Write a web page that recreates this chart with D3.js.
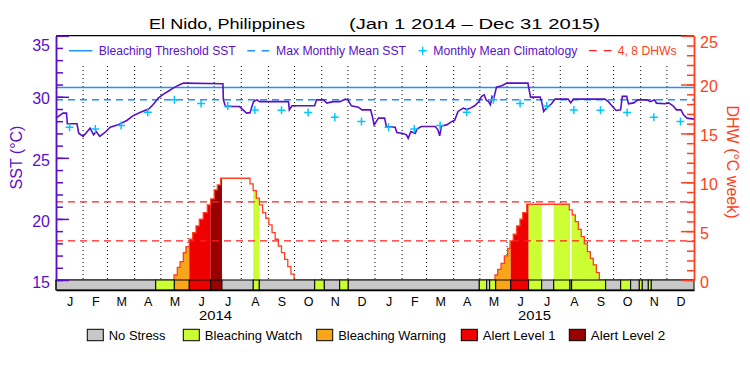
<!DOCTYPE html>
<html><head><meta charset="utf-8">
<script src="https://cdn.jsdelivr.net/npm/d3@7"></script>
<style>body{margin:0;background:#fff}svg{display:block}text{font-family:"Liberation Sans",Arial,sans-serif}</style>
</head><body><svg id="c" width="750" height="375"></svg>
<script>
// ---------- data ----------
const monthLetters = ["J","F","M","A","M","J","J","A","S","O","N","D"];
const yearLabels = ["2014","2015"];
const maxMonthlyMean = 29.75;
const bleachingThreshold = 30.75;
const dhwLevels = [4, 8];
const climatology = [27.5,27.37,27.65,28.73,29.75,29.45,29.25,28.92,28.9,28.72,28.33,27.98];
// days since Jan 1 2014
const sstDays = [0,8,12,13,24,26,31,39,43,46,50,56,62,71,81,88,96,106,111,117,123,128,134,142,146,191,191.5,194,210,218,222,226,230,233,266,267,270,296,298,306,310,317,325,331,334,338,346,350,360,362,364,
 369,376,378,388,390,397,401,403,406,411,413,418,434,437,439,441,447,453,456,460,466,470,474,479,484,487,490,492,495,497,499,501,504,510,516,540,541,543,554,556,558,561,567,571,586,589,592,628,632,636,641,646,648,653,655,661,666,676,680,685,687,697,701,706,710,715,718,722,730];
const sstValues = [28.25,28.66,28.66,27.79,27.79,27.02,26.75,27.43,26.89,27.16,26.75,27.08,27.51,27.7,28.06,28.44,28.71,28.99,29.34,29.89,30.22,30.43,30.71,31.0,31.12,31.07,29.75,29.2,29.2,28.66,28.7,29.61,29.75,29.6,29.6,28.93,29.26,29.26,29.75,29.75,29.48,29.6,29.6,29.81,29.75,29.26,29.15,28.93,28.93,28.39,27.7,
 28.25,28.25,27.57,27.5,27.08,27.0,26.89,26.61,27.16,27.0,27.35,27.57,27.57,27.3,26.8,27.62,27.7,27.98,28.05,28.8,29.07,28.95,29.07,29.26,29.61,30.03,30.16,29.75,29.6,29.34,30.03,29.9,30.79,30.9,31.12,31.12,30.71,29.97,29.97,29.5,28.8,29.07,29.43,29.81,29.81,29.5,29.81,29.81,29.6,29.26,28.88,28.93,30.03,30.03,29.43,29.5,29.75,29.75,29.6,29.75,29.48,29.43,29.5,29.26,28.93,28.93,28.52,28.25,28.17];
const dhwDays = [0,135,138.8,141.9,145.7,148.7,152.5,156.4,160.2,164,168.5,173.1,177,181.1,184.6,188.4,222,225.6,229.2,232.8,236.4,240,243.6,247.2,250.8,254.4,258,261.6,265.2,268.8,272.4,
 502.3,505.4,509.2,513,516.8,519.5,523.2,527.1,530.9,534,538.6,587.3,590.7,594.2,597.6,601,604.5,608,611.4,614.8,618.3,621.7,730];
const dhwValues = [0,0.51,1.3,1.88,2.8,3.41,4.17,4.85,5.53,6.22,6.9,7.68,8.3,9.22,9.73,10.41,9.84,9.15,8.37,7.68,6.9,6.32,5.64,4.85,4.17,3.48,2.8,2.12,1.37,0.61,0,
 0.51,1.09,1.71,2.46,3.24,4.0,4.68,5.53,6.22,6.9,7.75,7.17,6.66,5.97,5.19,4.44,3.69,2.9,2.22,1.54,0.75,0,0];
// stress level segments: start day, level (0 none,1 watch,2 warning,3 alert1,4 alert2)
const stressStarts = [0,114.1,135.4,152.5,177,189.9,225.7,232.6,296,307,324.6,334.4,484.3,492.8,496.2,503.1,520.3,540.8,555.7,569.5,588.1,590,628.9,646.1,657.5,667.4,670.8,677.7,681.1];
const stressLevels = [0,1,2,3,4,0,1,0,1,0,1,0,1,0,1,2,3,1,0,1,0,1,0,1,0,1,0,1,0];
const stressNames = ["No Stress","Bleaching Watch","Bleaching Warning","Alert Level 1","Alert Level 2"];
const sstTicks = [15,20,25,30,35];
const dhwTicks = [0,5,10,15,20,25];

// ---------- styles ----------
const PURPLE="#5a0fc8", BLUE="#1e90ff", CYAN="#00c8ff", ORANGE="#ff4020", DRED="#ff2020";
const stressColors = ["#c8c8c8","#ccff33","#f9a51a","#ee0000","#990000"];

const svg = d3.select("#c");
svg.append("rect").attr("width",750).attr("height",375).attr("fill","#fff");
const x = d3.scaleLinear([0,730],[56,694]);
const ySST = d3.scaleLinear([15,35],[280,35.7]);
const yDHW = d3.scaleLinear([0,25],[280,35.7]);
const t0 = Date.UTC(2014,0,1);
const dayOf = d => (d - t0)/864e5;
const monthStarts = d3.utcMonths(new Date(t0), new Date(Date.UTC(2016,0,2))).map(dayOf); // 25 values
const monthMids = d3.range(24).map(i => (monthStarts[i]+monthStarts[i+1])/2);

// title
svg.append("text").attr("x",149).attr("y",29).attr("font-size",15.5).attr("textLength",156).attr("lengthAdjust","spacingAndGlyphs").text("El Nido, Philippines");
svg.append("text").attr("x",349).attr("y",29).attr("font-size",15.5).attr("textLength",251).attr("lengthAdjust","spacingAndGlyphs").text("(Jan 1 2014 – Dec 31 2015)");

// dotted month lines
svg.append("g").selectAll("line").data(monthStarts.slice(1,24)).join("line")
  .attr("x1",d=>x(d)).attr("x2",d=>x(d)).attr("y1",66).attr("y2",280)
  .attr("stroke","#000").attr("stroke-width",1).attr("stroke-dasharray","1,3");

// threshold lines
svg.append("line").attr("x1",x(0)).attr("x2",x(730)).attr("y1",ySST(bleachingThreshold)).attr("y2",ySST(bleachingThreshold)).attr("stroke",BLUE).attr("stroke-width",1.5);
svg.append("line").attr("x1",x(0)).attr("x2",x(730)).attr("y1",ySST(maxMonthlyMean)).attr("y2",ySST(maxMonthlyMean)).attr("stroke",BLUE).attr("stroke-width",1.5).attr("stroke-dasharray","7,5");

// DHW area filled by stress level
const dhw = dhwDays.map((d,i)=>[d,dhwValues[i]]);
const area = d3.area().curve(d3.curveStepAfter).x(d=>x(d[0])).y0(yDHW(0)).y1(d=>yDHW(d[1]));
svg.append("clipPath").attr("id","dhwclip").append("path").attr("d",area(dhw));
const segs = stressStarts.map((s,i)=>({s, e: i<stressStarts.length-1?stressStarts[i+1]:730, l: stressLevels[i]}));
svg.append("g").attr("clip-path","url(#dhwclip)").selectAll("rect").data(segs.filter(d=>d.l>0)).join("rect")
  .attr("x",d=>x(d.s)).attr("width",d=>x(d.e)-x(d.s)).attr("y",yDHW(25)).attr("height",yDHW(0)-yDHW(25))
  .attr("fill",d=>stressColors[d.l]);
svg.append("path").attr("d",d3.line().curve(d3.curveStepAfter).x(d=>x(d[0])).y(d=>yDHW(d[1]))(dhw))
  .attr("fill","none").attr("stroke",ORANGE).attr("stroke-width",1.3);

// DHW 4,8 lines
svg.append("g").selectAll("line").data(dhwLevels).join("line")
  .attr("x1",x(0)).attr("x2",x(730)).attr("y1",d=>yDHW(d)).attr("y2",d=>yDHW(d))
  .attr("stroke",DRED).attr("stroke-width",1.3).attr("stroke-dasharray","7,5");

// SST line
svg.append("path").attr("d",d3.line().x(d=>x(d[0])).y(d=>ySST(d[1]))(sstDays.map((d,i)=>[d,sstValues[i]])))
  .attr("fill","none").attr("stroke",PURPLE).attr("stroke-width",1.6).attr("stroke-linejoin","miter");

// climatology crosses
const cross = "M-4,0H4M0,-4V4";
svg.append("g").selectAll("path").data(monthMids).join("path")
  .attr("transform",(d,i)=>`translate(${x(d)},${ySST(climatology[i%12])})`).attr("d",cross)
  .attr("stroke",CYAN).attr("stroke-width",1.5);

// stress bar
svg.append("g").selectAll("rect").data(segs).join("rect")
  .attr("x",d=>x(d.s)).attr("width",d=>x(d.e)-x(d.s)).attr("y",280).attr("height",10)
  .attr("fill",d=>stressColors[d.l]).attr("stroke","#000").attr("stroke-width",1);

// top border
svg.append("line").attr("x1",56).attr("x2",694).attr("y1",35.7).attr("y2",35.7).attr("stroke","#000").attr("stroke-width",1.3);

// left axis
function styleAxis(g,color){ g.attr("color",color).attr("font-family",null).attr("font-size",16);
  g.selectAll("line").attr("stroke-width",1.5); g.select(".domain").attr("stroke-width",1.5); }
const gl = svg.append("g").attr("transform","translate(56,0)");
gl.append("g").call(d3.axisLeft(ySST).tickValues(d3.range(15,36)).tickSizeInner(-7).tickSizeOuter(0).tickFormat("")).call(g=>styleAxis(g,PURPLE));
gl.append("g").call(d3.axisLeft(ySST).tickValues(sstTicks).tickSizeInner(-13).tickSizeOuter(0).tickPadding(6)).call(g=>styleAxis(g,PURPLE))
  .selectAll("text").attr("dy",(d)=>d===35?"0.95em":"0.45em");
const gr = svg.append("g").attr("transform","translate(694,0)");
gr.append("g").call(d3.axisRight(yDHW).tickValues(d3.range(0,26)).tickSizeInner(-7).tickSizeOuter(0).tickFormat("")).call(g=>styleAxis(g,ORANGE));
gr.append("g").call(d3.axisRight(yDHW).tickValues(dhwTicks).tickSizeInner(-13).tickSizeOuter(0).tickPadding(6)).call(g=>styleAxis(g,ORANGE))
  .selectAll("text").attr("dy",(d)=>d===25?"0.75em":"0.45em");
// left/right lines through stress bar
svg.append("line").attr("x1",56).attr("x2",56).attr("y1",280).attr("y2",290).attr("stroke","#000");

// x axis
const gx = svg.append("g").attr("transform","translate(0,290)")
  .call(d3.axisBottom(x).tickValues(monthMids).tickSize(0).tickPadding(5).tickFormat((d,i)=>monthLetters[i%12]));
gx.attr("font-family",null).attr("font-size",12.5);
gx.select(".domain").attr("stroke-width",1.3);
gx.selectAll("text").attr("dy","0.9em");
svg.append("g").selectAll("text").data(yearLabels).join("text")
  .attr("x",(d,i)=>x((monthStarts[12*i]+monthStarts[12*i+12])/2)).attr("y",320).attr("text-anchor","middle")
  .attr("font-size",12.5).attr("textLength",33).attr("lengthAdjust","spacingAndGlyphs").text(d=>d);

// axis titles
svg.append("text").attr("transform","translate(22,157.5) rotate(-90)").attr("text-anchor","middle").attr("font-size",16).attr("fill",PURPLE).text("SST (°C)");
svg.append("text").attr("transform","translate(727,162) rotate(90)").attr("text-anchor","middle").attr("font-size",16).attr("fill",ORANGE).text("DHW (°C week)");

// top legend
const lg = svg.append("g");
lg.append("line").attr("x1",69).attr("x2",92.3).attr("y1",50.7).attr("y2",50.7).attr("stroke",BLUE).attr("stroke-width",1.5);
lg.append("line").attr("x1",247.3).attr("x2",269.3).attr("y1",50.7).attr("y2",50.7).attr("stroke",BLUE).attr("stroke-width",1.5).attr("stroke-dasharray","7.7,6.6");
lg.append("path").attr("transform","translate(422.7,50.7)").attr("d",cross).attr("stroke",CYAN).attr("stroke-width",1.5);
lg.append("line").attr("x1",589).attr("x2",611.7).attr("y1",50.7).attr("y2",50.7).attr("stroke",DRED).attr("stroke-width",1.3).attr("stroke-dasharray","7.7,7");
const topItems = [["Bleaching Threshold SST",98.7,137,PURPLE],["Max Monthly Mean SST",276,130,PURPLE],["Monthly Mean Climatology",433.3,144,PURPLE],["4, 8 DHWs",617.7,59,ORANGE]];
lg.selectAll("text").data(topItems).join("text").attr("x",d=>d[1]).attr("y",55.3).attr("font-size",12.5)
  .attr("textLength",d=>d[2]).attr("lengthAdjust","spacingAndGlyphs").attr("fill",d=>d[3]).text(d=>d[0]);

// bottom legend
const boxX = [87.3,183.3,316.7,461.3,569.3];
const txtW = [56.7,97.4,107.7,72.7,74.3];
const bl = svg.append("g").selectAll("g").data(stressNames).join("g");
bl.append("rect").attr("x",(d,i)=>boxX[i]).attr("y",329.3).attr("width",16).attr("height",11.4)
  .attr("fill",(d,i)=>stressColors[i]).attr("stroke","#000").attr("stroke-width",1);
bl.append("text").attr("x",(d,i)=>boxX[i]+21.5).attr("y",339.5).attr("font-size",12.5)
  .attr("textLength",(d,i)=>txtW[i]).attr("lengthAdjust","spacingAndGlyphs").text(d=>d);
</script></body></html>
